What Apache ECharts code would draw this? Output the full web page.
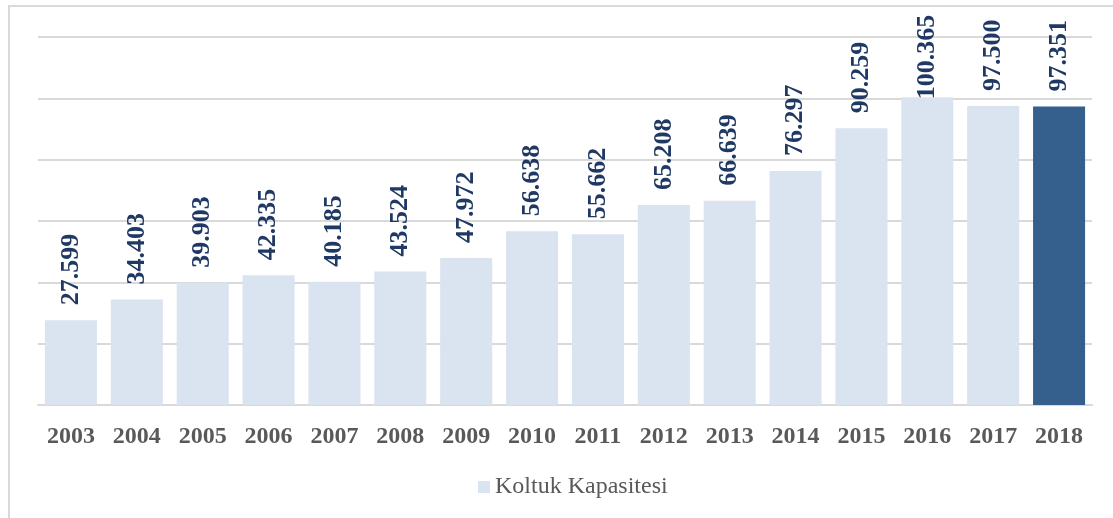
<!DOCTYPE html>
<html>
<head>
<meta charset="utf-8">
<script src="https://cdn.jsdelivr.net/npm/echarts@6/dist/echarts.min.js"></script>
<style>
  html, body { margin: 0; padding: 0; background: #fff; }
  #chart { width: 1113px; height: 518px; }
</style>
</head>
<body>
<div id="chart"></div>
<script>
// koltuk kapasitesi by year
const years = ['2003', '2004', '2005', '2006', '2007', '2008', '2009', '2010',
  '2011', '2012', '2013', '2014', '2015', '2016', '2017', '2018'];
const capacity = [27599, 34403, 39903, 42335, 40185, 43524, 47972, 56638,
  55662, 65208, 66639, 76297, 90259, 100365, 97500, 97351];
const seriesName = 'Koltuk Kapasitesi';

const lightBlue = '#dae3f0';
const darkBlue = '#355f8d';

function fmt (v) {
  // turkish style thousand separator
  return String(v).replace(/\B(?=(\d{3})+(?!\d))/g, '.');
}

const maxIdx = capacity.indexOf(Math.max.apply(null, capacity));
const barData = capacity.map(function (v, i) {
  let item = { value: v };
  if (i === years.length - 1) {
    item.itemStyle = { color: darkBlue };
  }
  if (i === maxIdx) {
    item.label = { distance: -2 };
  }
  return item;
});

let chart = echarts.init(document.getElementById('chart'));
chart.setOption({
  animation: false,
  graphic: [{
    type: 'rect',
    shape: { x: 9, y: 6, width: 1200, height: 600 },
    style: { fill: 'none', stroke: '#d9d9d9', lineWidth: 2 },
    silent: true
  }],
  grid: {
    left: 38,
    right: 21,
    top: 37,
    bottom: 113
  },
  legend: {
    bottom: 14,
    left: 473,
    icon: 'rect',
    itemWidth: 12,
    itemHeight: 12,
    itemGap: 6,
    textStyle: {
      fontFamily: 'Liberation Serif',
      fontSize: 24,
      color: '#595959'
    },
    data: [seriesName]
  },
  xAxis: {
    type: 'category',
    data: years,
    axisLine: { lineStyle: { color: '#d9d9d9', width: 2 } },
    axisTick: { show: false },
    axisLabel: {
      margin: 20,
      fontFamily: 'Liberation Serif',
      fontWeight: 'bold',
      fontSize: 24,
      color: '#595959'
    }
  },
  yAxis: {
    type: 'value',
    min: 0,
    max: 120000,
    interval: 20000,
    axisLabel: { show: false },
    axisLine: { show: false },
    axisTick: { show: false },
    splitLine: { lineStyle: { color: '#d9d9d9', width: 2 } }
  },
  series: [{
    name: seriesName,
    type: 'bar',
    barCategoryGap: '21%',
    itemStyle: { color: lightBlue },
    data: barData,
    label: {
      show: true,
      position: 'top',
      rotate: 90,
      align: 'left',
      verticalAlign: 'middle',
      distance: 15,
      fontFamily: 'Liberation Serif',
      fontWeight: 'bold',
      fontSize: 26,
      color: '#1f3864',
      formatter: function (p) { return fmt(p.value); }
    }
  }]
});
</script>
</body>
</html>
